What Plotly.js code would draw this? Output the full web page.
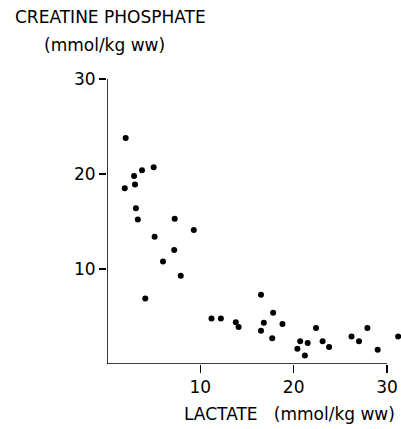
<!DOCTYPE html>
<html>
<head>
<meta charset="utf-8">
<script src="https://cdn.plot.ly/plotly-3.0.1.min.js"></script>
<style>html,body{margin:0;padding:0;background:#fff;}#chart{width:401px;height:429px;}</style>
</head>
<body>
<div id="chart"></div>
<script>
// Lactate (mmol/kg ww)
var lactate = [2.0, 1.9, 2.9, 3.0, 3.75, 5.0, 3.1, 3.3, 7.25, 9.3, 5.1, 7.2, 6.0, 7.9, 4.1,
  11.2, 12.2, 16.5, 13.8, 14.1, 17.8, 16.8, 18.8, 16.5, 17.7, 22.4, 20.7, 21.5, 20.4, 21.2,
  23.1, 23.8, 26.2, 27.0, 27.9, 29.0, 31.2];
// Creatine phosphate (mmol/kg ww)
var creatinePhosphate = [23.8, 18.5, 19.8, 18.9, 20.4, 20.7, 16.4, 15.2, 15.3, 14.1, 13.4, 12.0, 10.8, 9.3, 6.9,
  4.8, 4.8, 7.3, 4.4, 3.9, 5.4, 4.35, 4.2, 3.5, 2.7, 3.8, 2.4, 2.2, 1.6, 0.9,
  2.4, 1.8, 2.9, 2.4, 3.8, 1.5, 2.9];
var xTicks = [10, 20, 30];
var yTicks = [10, 20, 30];
var axisMax = 30;
var yTitleLines = ["CREATINE PHOSPHATE", "(mmol/kg ww)"];
var xTitle = "LACTATE\u00A0\u00A0 (mmol/kg ww)";

var font = {family: "DejaVu Sans, sans-serif", size: 17, color: "#000"};

var trace = {
  x: lactate, y: creatinePhosphate, type: "scatter", mode: "markers",
  marker: {color: "#000", size: 6}, cliponaxis: false, hoverinfo: "none"
};

var L = 107, T = 79, W = 294, H = 285;
function px2paperX(px){ return (px - L) / W; }
function px2paperY(py){ return (T + H - py) / H; }

var layout = {
  width: 401, height: 429,
  margin: {l: L, r: 401 - L - W, t: T, b: 429 - T - H, pad: 0},
  paper_bgcolor: "#fff", plot_bgcolor: "#fff",
  showlegend: false,
  font: font,
  xaxis: {
    range: [0, 31.5], showgrid: false, zeroline: false, showline: false,
    ticks: "outside", ticklen: 8, tickwidth: 1.4,
    tickcolor: "#000", tickvals: xTicks, ticktext: xTicks.map(String), tickfont: font
  },
  yaxis: {
    range: [0, 30], showgrid: false, zeroline: false, showline: false,
    ticks: "outside", ticklen: 7, tickwidth: 1.4,
    tickcolor: "#000", tickvals: yTicks, ticktext: yTicks.map(String), tickfont: font
  },
  shapes: [
    {type: "line", xref: "x", yref: "y", x0: 0, x1: axisMax, y0: 0, y1: 0,
     line: {color: "#000", width: 1.6}},
    {type: "line", xref: "x", yref: "y", x0: 0, x1: 0, y0: 0, y1: axisMax,
     line: {color: "#000", width: 1.6}}
  ],
  annotations: [
    {text: yTitleLines[0], xref: "paper", yref: "paper", x: px2paperX(13), y: px2paperY(17),
     xanchor: "left", yanchor: "middle", showarrow: false, font: font},
    {text: yTitleLines[1], xref: "paper", yref: "paper", x: px2paperX(42), y: px2paperY(44.5),
     xanchor: "left", yanchor: "middle", showarrow: false, font: font},
    {text: xTitle, xref: "paper", yref: "paper", x: px2paperX(182), y: px2paperY(414.5),
     xanchor: "left", yanchor: "middle", showarrow: false, font: font}
  ]
};

Plotly.newPlot("chart", [trace], layout, {staticPlot: true, displayModeBar: false});
</script>
</body>
</html>
